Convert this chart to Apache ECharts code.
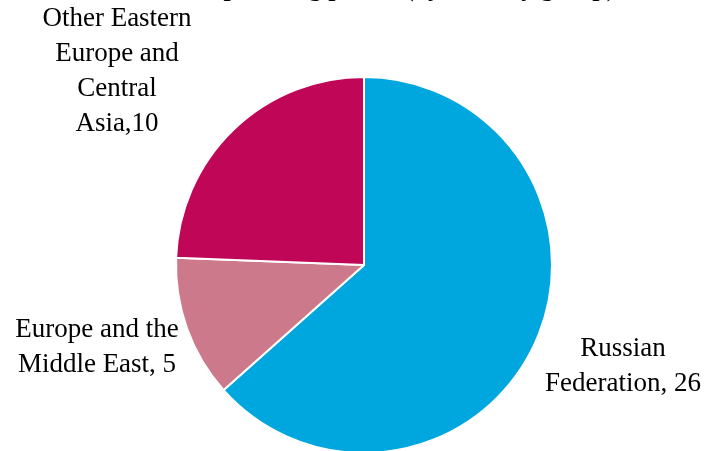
<!DOCTYPE html>
<html>
<head>
<meta charset="utf-8">
<script src="https://cdn.jsdelivr.net/npm/echarts@6/dist/echarts.min.js"></script>
<style>html,body{margin:0;padding:0;background:#fff;}#c{width:706px;height:451px;}</style>
</head>
<body>
<div id="c"></div>
<script>
const categories = ['Russian\nFederation, 26', 'Europe and the\nMiddle East, 5', 'Other Eastern\nEurope and\nCentral\nAsia,10'];
const names = ['Russian Federation', 'Europe and the Middle East', 'Other Eastern Europe and Central Asia'];
const values = [26, 5, 10];
const colors = ['#00A6DE', '#CD798C', '#C00757'];
const labelPos = [[623, 366], [97, 347], [117, 71]];

const chart = echarts.init(document.getElementById('c'), null, {renderer: 'canvas'});
chart.setOption({
  animation: false,
  backgroundColor: '#fff',
  title: {
    text: 'Reactors in planning phase, (by country group)',
    left: 'center',
    top: -28.5,
    textStyle: {fontFamily: 'Liberation Serif', fontWeight: 'bold', fontSize: 26, color: '#000'}
  },
  series: [{
    type: 'pie',
    center: [364, 265],
    radius: [0, 188],
    startAngle: 90,
    clockwise: true,
    itemStyle: {borderColor: '#fff', borderWidth: 2},
    label: {
      show: true,
      position: 'outside',
      formatter: p => categories[p.dataIndex],
      fontFamily: 'Liberation Serif',
      fontSize: 27,
      lineHeight: 35,
      color: '#000',
      align: 'center',
      overflow: 'none',
      width: 300
    },
    labelLine: {show: false},
    labelLayout: function (p) {
      const pos = labelPos[p.dataIndex];
      return {x: pos[0], y: pos[1], align: 'center', verticalAlign: 'middle', hideOverlap: false};
    },
    data: values.map((v, i) => ({name: names[i], value: v, itemStyle: {color: colors[i]}}))
  }]
});
</script>
</body>
</html>
